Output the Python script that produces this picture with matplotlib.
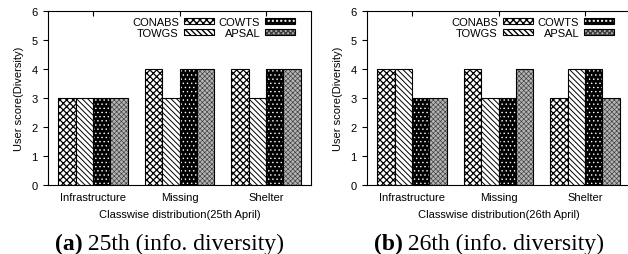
import matplotlib
matplotlib.use("Agg")
import matplotlib.pyplot as plt
import numpy as np
from matplotlib.patches import Patch
from matplotlib.legend_handler import HandlerTuple

categories = ["Infrastructure", "Missing", "Shelter"]
series = ["CONABS", "TOWGS", "COWTS", "APSAL"]
vals_25 = {"CONABS": [3, 4, 4], "TOWGS": [3, 3, 3], "COWTS": [3, 4, 4], "APSAL": [3, 4, 4]}
vals_26 = {"CONABS": [4, 4, 3], "TOWGS": [4, 3, 4], "COWTS": [3, 3, 4], "APSAL": [3, 4, 3]}
xlabels = ["Classwise distribution(25th April)", "Classwise distribution(26th April)"]
captions = [("(a)", " 25th (info. diversity)"), ("(b)", " 26th (info. diversity)")]
ylabel = "User score(Diversity)"
yticks = [0, 1, 2, 3, 4, 5, 6]

styles = {
    "CONABS": dict(fc="white", hc="black", hatch="xxxxx", hlw=0.9),
    "TOWGS": dict(fc="white", hc="black", hatch="\\\\\\\\\\\\", hlw=0.7),
    "COWTS": dict(fc="black", hc="white", hatch="....", hlw=0.5),
    "APSAL": dict(fc="#b4b4b4", hc="#3c3c3c", hatch="xxxxxxx", hlw=0.45),
}

plt.rcParams["font.family"] = ["Liberation Sans", "DejaVu Sans"]

W, H = 628, 255
fig = plt.figure(figsize=(W / 100, H / 100), dpi=100)

def axrect(l, r, t, b):
    return [l / W, (H - b) / H, (r - l) / W, (b - t) / H]

rects = [axrect(48, 311, 12, 186), axrect(367, 630, 12, 186)]
cap_x = [169.5, 489]
datasets = [vals_25, vals_26]
fs = 8
bw = 0.2
x = np.arange(len(categories))

def hpatch(st, **kw):
    with plt.rc_context({"hatch.linewidth": st["hlw"]}):
        return Patch(facecolor=st["fc"], edgecolor=st["hc"], hatch=st["hatch"], linewidth=0, **kw)

for i in range(2):
    ax = fig.add_axes(rects[i])
    data = datasets[i]
    handles = []
    for j, s in enumerate(series):
        st = styles[s]
        pos = x + (j - 1.5) * bw
        with plt.rc_context({"hatch.linewidth": st["hlw"]}):
            ax.bar(pos, data[s], bw, facecolor=st["fc"], edgecolor=st["hc"], hatch=st["hatch"], linewidth=0)
        ax.bar(pos, data[s], bw, fill=False, edgecolor="black", linewidth=0.8)
        handles.append((hpatch(st), Patch(fill=False, edgecolor="black", linewidth=0.8)))
    ax.set_xlim(-0.52, 2.52)
    ax.set_ylim(0, 6)
    ax.set_yticks(yticks)
    ax.set_xticks(x)
    ax.set_xticklabels(categories, fontsize=fs)
    ax.tick_params(axis="y", direction="out", length=3.5, width=0.8, labelsize=fs, pad=4)
    ax.tick_params(axis="x", direction="in", length=3.5, width=0.8, top=True, labelsize=fs, pad=5)
    for sp in ax.spines.values():
        sp.set_linewidth(0.8)
    ax.set_ylabel(ylabel, fontsize=fs, labelpad=5)
    ax.set_xlabel(xlabels[i], fontsize=fs, labelpad=5)
    leg = ax.legend(handles, series, handler_map={tuple: HandlerTuple(ndivide=1)},
                    loc="upper right", ncol=2, markerfirst=False, frameon=False,
                    fontsize=fs, handlelength=2.7, handleheight=0.55, handletextpad=0.45,
                    columnspacing=0.45, labelspacing=0.1, borderaxespad=0.3)
    leg.set_bbox_to_anchor(((303 if i == 0 else 622) / W, (H - 10) / H), transform=fig.transFigure)
    t1 = fig.text(0, 0, captions[i][0], family=["Liberation Serif"], fontweight="bold", fontsize=17)
    t2 = fig.text(0, 0, captions[i][1], family=["Liberation Serif"], fontsize=17)
    fig.canvas.draw()
    r = fig.canvas.get_renderer()
    w1 = t1.get_window_extent(r).width
    w2 = t2.get_window_extent(r).width
    left = cap_x[i] - (w1 + w2) / 2
    t1.set_position((left / W, (H - 244) / H))
    t2.set_position(((left + w1) / W, (H - 244) / H))
    t1.set_va("center")
    t2.set_va("center")

fig.savefig("out.png", dpi=100)
